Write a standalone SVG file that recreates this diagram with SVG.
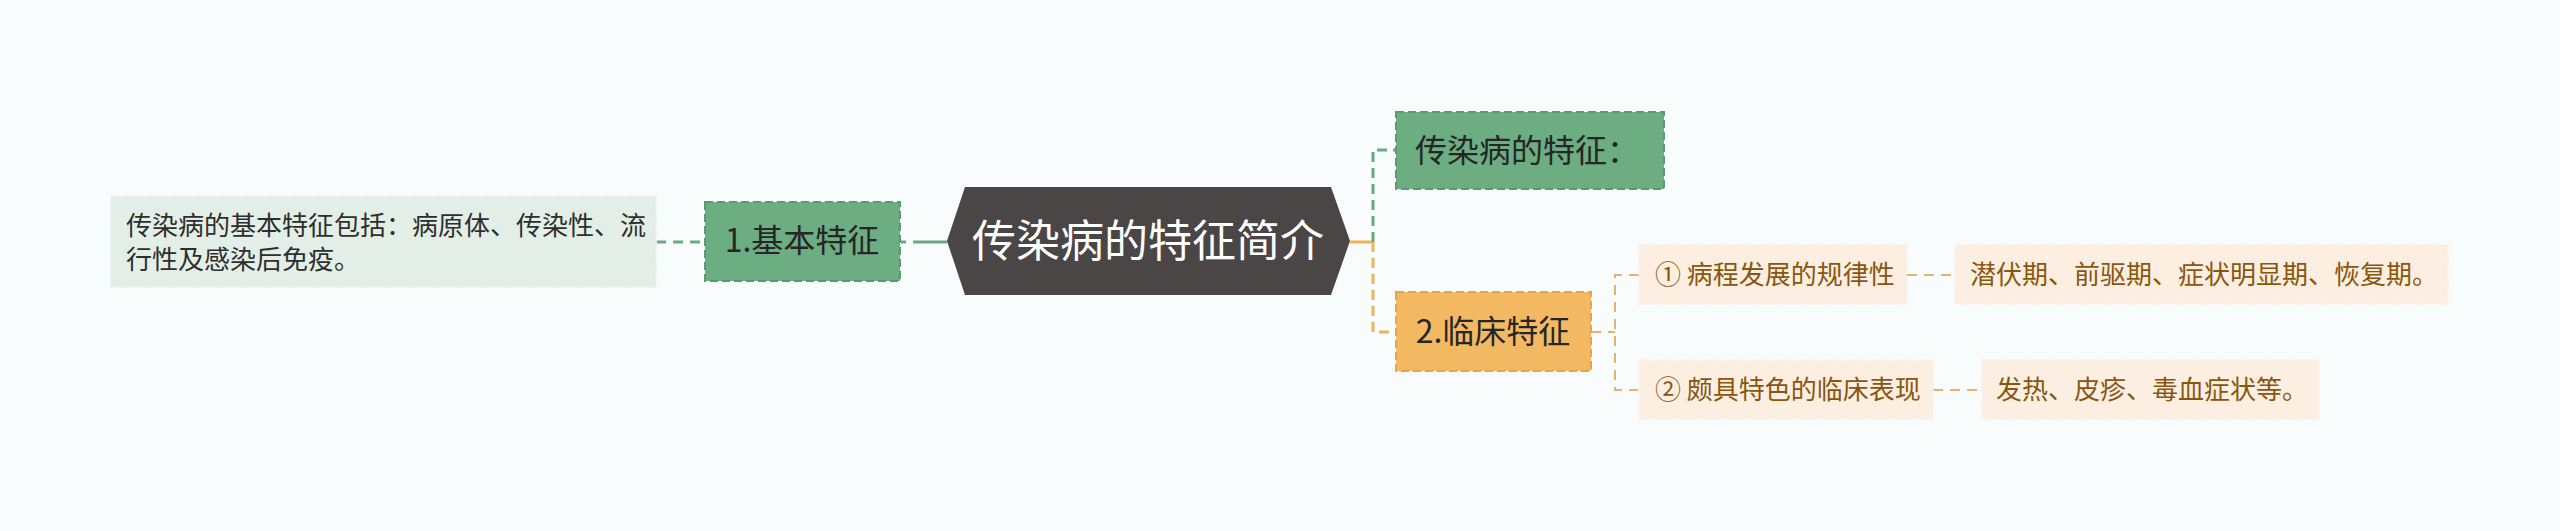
<svg xmlns="http://www.w3.org/2000/svg" width="2560" height="531" viewBox="0 0 2560 531">
<style>
text{font-family:"Noto Sans CJK SC","Noto Sans",sans-serif;}
.g{fill:#6cad82;stroke:#5b9a70;stroke-width:2;stroke-dasharray:8 4;}
.o{fill:#f3b862;stroke:#e3a54c;stroke-width:2;stroke-dasharray:8 4;}
.lg{fill:#e3efe6;stroke:#e9f3ec;stroke-width:2;stroke-dasharray:8 4;}
.lo{fill:#fcefe1;stroke:#fbf3ea;stroke-width:2;stroke-dasharray:8 4;}
.t32{font-size:32px;fill:#262626;}
.t26{font-size:26px;fill:#2e2e2e;}
.tb{font-size:26px;fill:#8a560f;}
.cg{fill:none;stroke:#6aaa80;stroke-width:3;}
.co{fill:none;stroke:#efb457;stroke-width:3;}
.ct{fill:none;stroke:#e2b46e;stroke-width:2;stroke-dasharray:10 7;}
</style>
<rect x="0" y="0" width="2560" height="531" fill="#f8fcfc"/>
<g id="connectors">
<path class="cg" d="M656,242 H705" stroke-dasharray="10 7" stroke-width="2.5"/>
<path class="cg" d="M901,242 H906"/>
<path class="cg" d="M913,242 H947"/>
<path class="co" d="M1350,242 H1373"/>
<path class="cg" d="M1373,242 V150 H1396" stroke-dasharray="10 6"/>
<path class="co" d="M1373,242 V332 H1396" stroke-dasharray="10 6"/>
<path class="ct" d="M1591,332 H1615"/>
<path class="ct" d="M1639,275 H1615 V390 H1639"/>
<path class="ct" d="M1907,275 H1955"/>
<path class="ct" d="M1933,390 H1982"/>
</g>
<g id="root">
<polygon points="947,241 965,187 1331,187 1350,241 1331,295 965,295" fill="#4b4646"/>
<text x="1148" y="257" font-size="44" fill="#ffffff" text-anchor="middle">传染病的特征简介</text>
</g>
<g id="n1">
<rect class="g" x="705" y="202" width="195" height="79"/>
<text class="t32" x="802" y="252" text-anchor="middle">1.基本特征</text>
</g>
<g id="n1a">
<rect class="lg" x="111" y="196" width="545" height="91"/>
<text class="t26" x="126" y="235">传染病的基本特征包括：病原体、传染性、流</text>
<text class="t26" x="126" y="269">行性及感染后免疫。</text>
</g>
<g id="n2">
<rect class="g" x="1396" y="112" width="268" height="77"/>
<text class="t32" x="1415" y="162">传染病的特征：</text>
</g>
<g id="n3">
<rect class="o" x="1396" y="292" width="195" height="79"/>
<text class="t32" x="1493" y="343" text-anchor="middle">2.临床特征</text>
</g>
<g id="n3a">
<rect class="lo" x="1639" y="245" width="268" height="59"/>
<text class="tb" x="1655" y="284">① 病程发展的规律性</text>
</g>
<g id="n3a1">
<rect class="lo" x="1955" y="245" width="493" height="59"/>
<text class="tb" x="1970" y="284">潜伏期、前驱期、症状明显期、恢复期。</text>
</g>
<g id="n3b">
<rect class="lo" x="1639" y="360" width="294" height="59"/>
<text class="tb" x="1655" y="399">② 颇具特色的临床表现</text>
</g>
<g id="n3b1">
<rect class="lo" x="1982" y="360" width="337" height="59"/>
<text class="tb" x="1996" y="399">发热、皮疹、毒血症状等。</text>
</g>
</svg>
